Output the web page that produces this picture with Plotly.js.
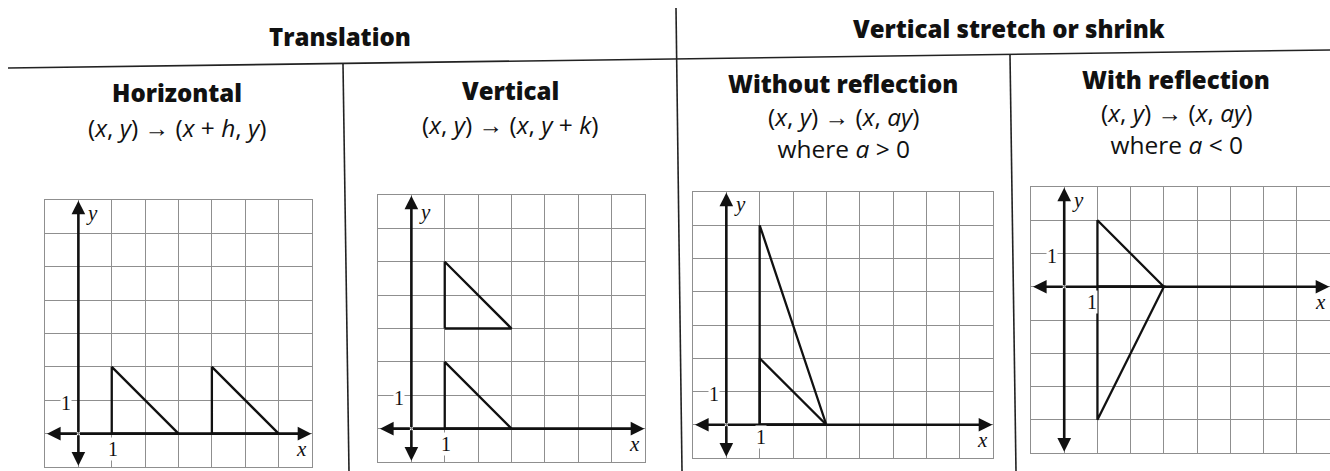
<!DOCTYPE html>
<html><head><meta charset="utf-8">
<script src="https://cdn.plot.ly/plotly-3.0.1.min.js"></script>
<style>html,body{margin:0;padding:0;background:#fff}#chart{width:1330px;height:471px}</style>
</head><body><div id="chart"></div>
<script>
// ---- data ----
const headerTitles = ["Translation", "Vertical stretch or shrink"];
const panelTitles = ["Horizontal", "Vertical", "Without reflection", "With reflection"];
const panelRules = ["(<i>x</i>, <i>y</i>) \u2192 (<i>x</i> + <i>h</i>, <i>y</i>)",
                    "(<i>x</i>, <i>y</i>) \u2192 (<i>x</i>, <i>y</i> + <i>k</i>)",
                    "(<i>x</i>, <i>y</i>) \u2192 (<i>x</i>, <i>ay</i>)",
                    "(<i>x</i>, <i>y</i>) \u2192 (<i>x</i>, <i>ay</i>)"];
const panelConditions = ["", "", "where <i>a</i> > 0", "where <i>a</i> < 0"];
const xRanges = [[-1, 7], [-1, 7], [-1, 8], [-1, 8]];
const yRanges = [[-1, 7], [-1, 7], [-1, 7], [-5, 3]];

const preimageX = [1, 1, 3, 1];
const preimageY = [0, 2, 0, 0];
const horizTranslatedX = [4, 4, 6, 4];
const horizTranslatedY = [0, 2, 0, 0];
const vertTranslatedX = [1, 1, 3, 1];
const vertTranslatedY = [3, 5, 3, 3];
const stretchedX = [1, 1, 3, 1];
const stretchedY = [0, 6, 0, 0];
const reflectedX = [1, 1, 3, 1];
const reflectedY = [0, -4, 0, 0];

// ---- layout helpers ----
const W = 1330, H = 471;
const px = v => v / W;
const py = v => 1 - v / H;
const boxes = [ // pixel boxes of the grids [left, right, top, bottom]
  [45, 312, 200, 467],
  [378, 645, 195, 462],
  [693, 993, 192, 458],
  [1031, 1330, 187, 453]
];

const shapesSeries = [
  [[preimageX, preimageY], [horizTranslatedX, horizTranslatedY]],
  [[preimageX, preimageY], [vertTranslatedX, vertTranslatedY]],
  [[preimageX, preimageY], [stretchedX, stretchedY]],
  [[preimageX, preimageY], [reflectedX, reflectedY]]
];

const traces = [];
const layout = {
  width: W, height: H,
  margin: {l: 0, r: 0, t: 0, b: 0},
  paper_bgcolor: "#fff", plot_bgcolor: "#fff",
  showlegend: false,
  annotations: [], shapes: []
};

const gridColor = "#8f8f8f";
const serif = "Liberation Serif, Times New Roman, serif";

boxes.forEach((b, i) => {
  const n = i + 1;
  const xa = "xaxis" + (n === 1 ? "" : n), ya = "yaxis" + (n === 1 ? "" : n);
  const xr = "x" + (n === 1 ? "" : n), yr = "y" + (n === 1 ? "" : n);
  layout[xa] = {domain: [px(b[0]), px(b[1])], range: xRanges[i], dtick: 1, tick0: 0,
    showgrid: true, gridcolor: gridColor, gridwidth: 1, zeroline: false,
    showticklabels: false, ticks: "", showline: true, mirror: true, linecolor: gridColor, linewidth: 1,
    anchor: yr, fixedrange: true};
  layout[ya] = {domain: [py(b[3]), py(b[2])], range: yRanges[i], dtick: 1, tick0: 0,
    showgrid: true, gridcolor: gridColor, gridwidth: 1, zeroline: false,
    showticklabels: false, ticks: "", showline: true, mirror: true, linecolor: gridColor, linewidth: 1,
    anchor: xr, fixedrange: true};

  shapesSeries[i].forEach(s => {
    traces.push({x: s[0], y: s[1], xaxis: xr, yaxis: yr, mode: "lines",
      line: {color: "#111", width: 2.3}, hoverinfo: "skip", cliponaxis: false});
  });

  // axis arrows (both directions from the origin)
  const xr0 = xRanges[i][0] + 0.06, xr1 = xRanges[i][1] - 0.02;
  const yr0 = yRanges[i][0] + 0.04, yr1 = yRanges[i][1] - 0.02;
  [[xr1, 0], [xr0, 0], [0, yr1], [0, yr0]].forEach(p => {
    layout.annotations.push({x: p[0], y: p[1], ax: 0, ay: 0, xref: xr, yref: yr, axref: xr, ayref: yr,
      text: "", showarrow: true, arrowhead: 2, arrowsize: 1.05, arrowwidth: 2.6, arrowcolor: "#111", standoff: 0});
  });

  // axis labels
  const yLab = [6.6, 6.5, 6.65, 2.62][i];
  const xLab = xRanges[i][1] - 0.3;
  layout.annotations.push({x: 0.42, y: yLab, xref: xr, yref: yr, text: "<i>y</i>", showarrow: false,
    font: {family: serif, size: 21, color: "#111"}});
  layout.annotations.push({x: xLab, y: -0.45, xref: xr, yref: yr, text: "<i>x</i>", showarrow: false,
    font: {family: serif, size: 21, color: "#111"}});
  layout.annotations.push({x: -0.36, y: 0.92, xref: xr, yref: yr, text: "1", showarrow: false,
    bgcolor: "#fff", borderpad: 0, font: {family: serif, size: 20, color: "#111"}});
  const oneX = i === 3 ? 0.85 : 1.03;
  const oneY = i === 2 ? -0.36 : -0.47;
  layout.annotations.push({x: oneX, y: oneY, xref: xr, yref: yr, text: "1", showarrow: false,
    bgcolor: "#fff", borderpad: 0, font: {family: serif, size: 20, color: "#111"}});
});

// ---- table text ----
const boldFont = {family: "Open Sans, sans-serif", size: 24, color: "#111", weight: 800};
const regFont = {family: "Open Sans, sans-serif", size: 24.5, color: "#111"};
const headerPos = [[340, 37], [1009, 29]];
headerTitles.forEach((t, i) => {
  layout.annotations.push({x: px(headerPos[i][0]), y: py(headerPos[i][1]), xref: "paper", yref: "paper",
    text: t, showarrow: false, font: boldFont, xanchor: "center", yanchor: "middle"});
});
const titlePos = [[177, 93], [510, 91], [843, 84], [1176, 80]];
const rulePos = [[177, 128], [510, 125], [844, 133], [1177, 129]];
panelTitles.forEach((t, i) => {
  layout.annotations.push({x: px(titlePos[i][0]), y: py(titlePos[i][1]), xref: "paper", yref: "paper",
    text: t, showarrow: false, font: boldFont, xanchor: "center", yanchor: "middle"});
  const body = panelConditions[i] ? panelRules[i] + "<br>" + panelConditions[i] : panelRules[i];
  layout.annotations.push({x: px(rulePos[i][0]), y: py(rulePos[i][1]), xref: "paper", yref: "paper",
    text: body, showarrow: false, font: regFont, xanchor: "center", yanchor: "middle", align: "center"});
});

// ---- table rules (slightly skewed like the scan) ----
const ruleLine = {color: "#222", width: 1.6};
[[8, 68, 1330, 50], [676, 8, 682, 471], [343, 64, 349, 471], [1010, 55, 1016, 471]].forEach(l => {
  layout.shapes.push({type: "line", xref: "paper", yref: "paper",
    x0: px(l[0]), y0: py(l[1]), x1: px(l[2]), y1: py(l[3]), line: ruleLine});
});

Plotly.newPlot("chart", traces, layout, {displayModeBar: false, staticPlot: true});
</script>
</body></html>
